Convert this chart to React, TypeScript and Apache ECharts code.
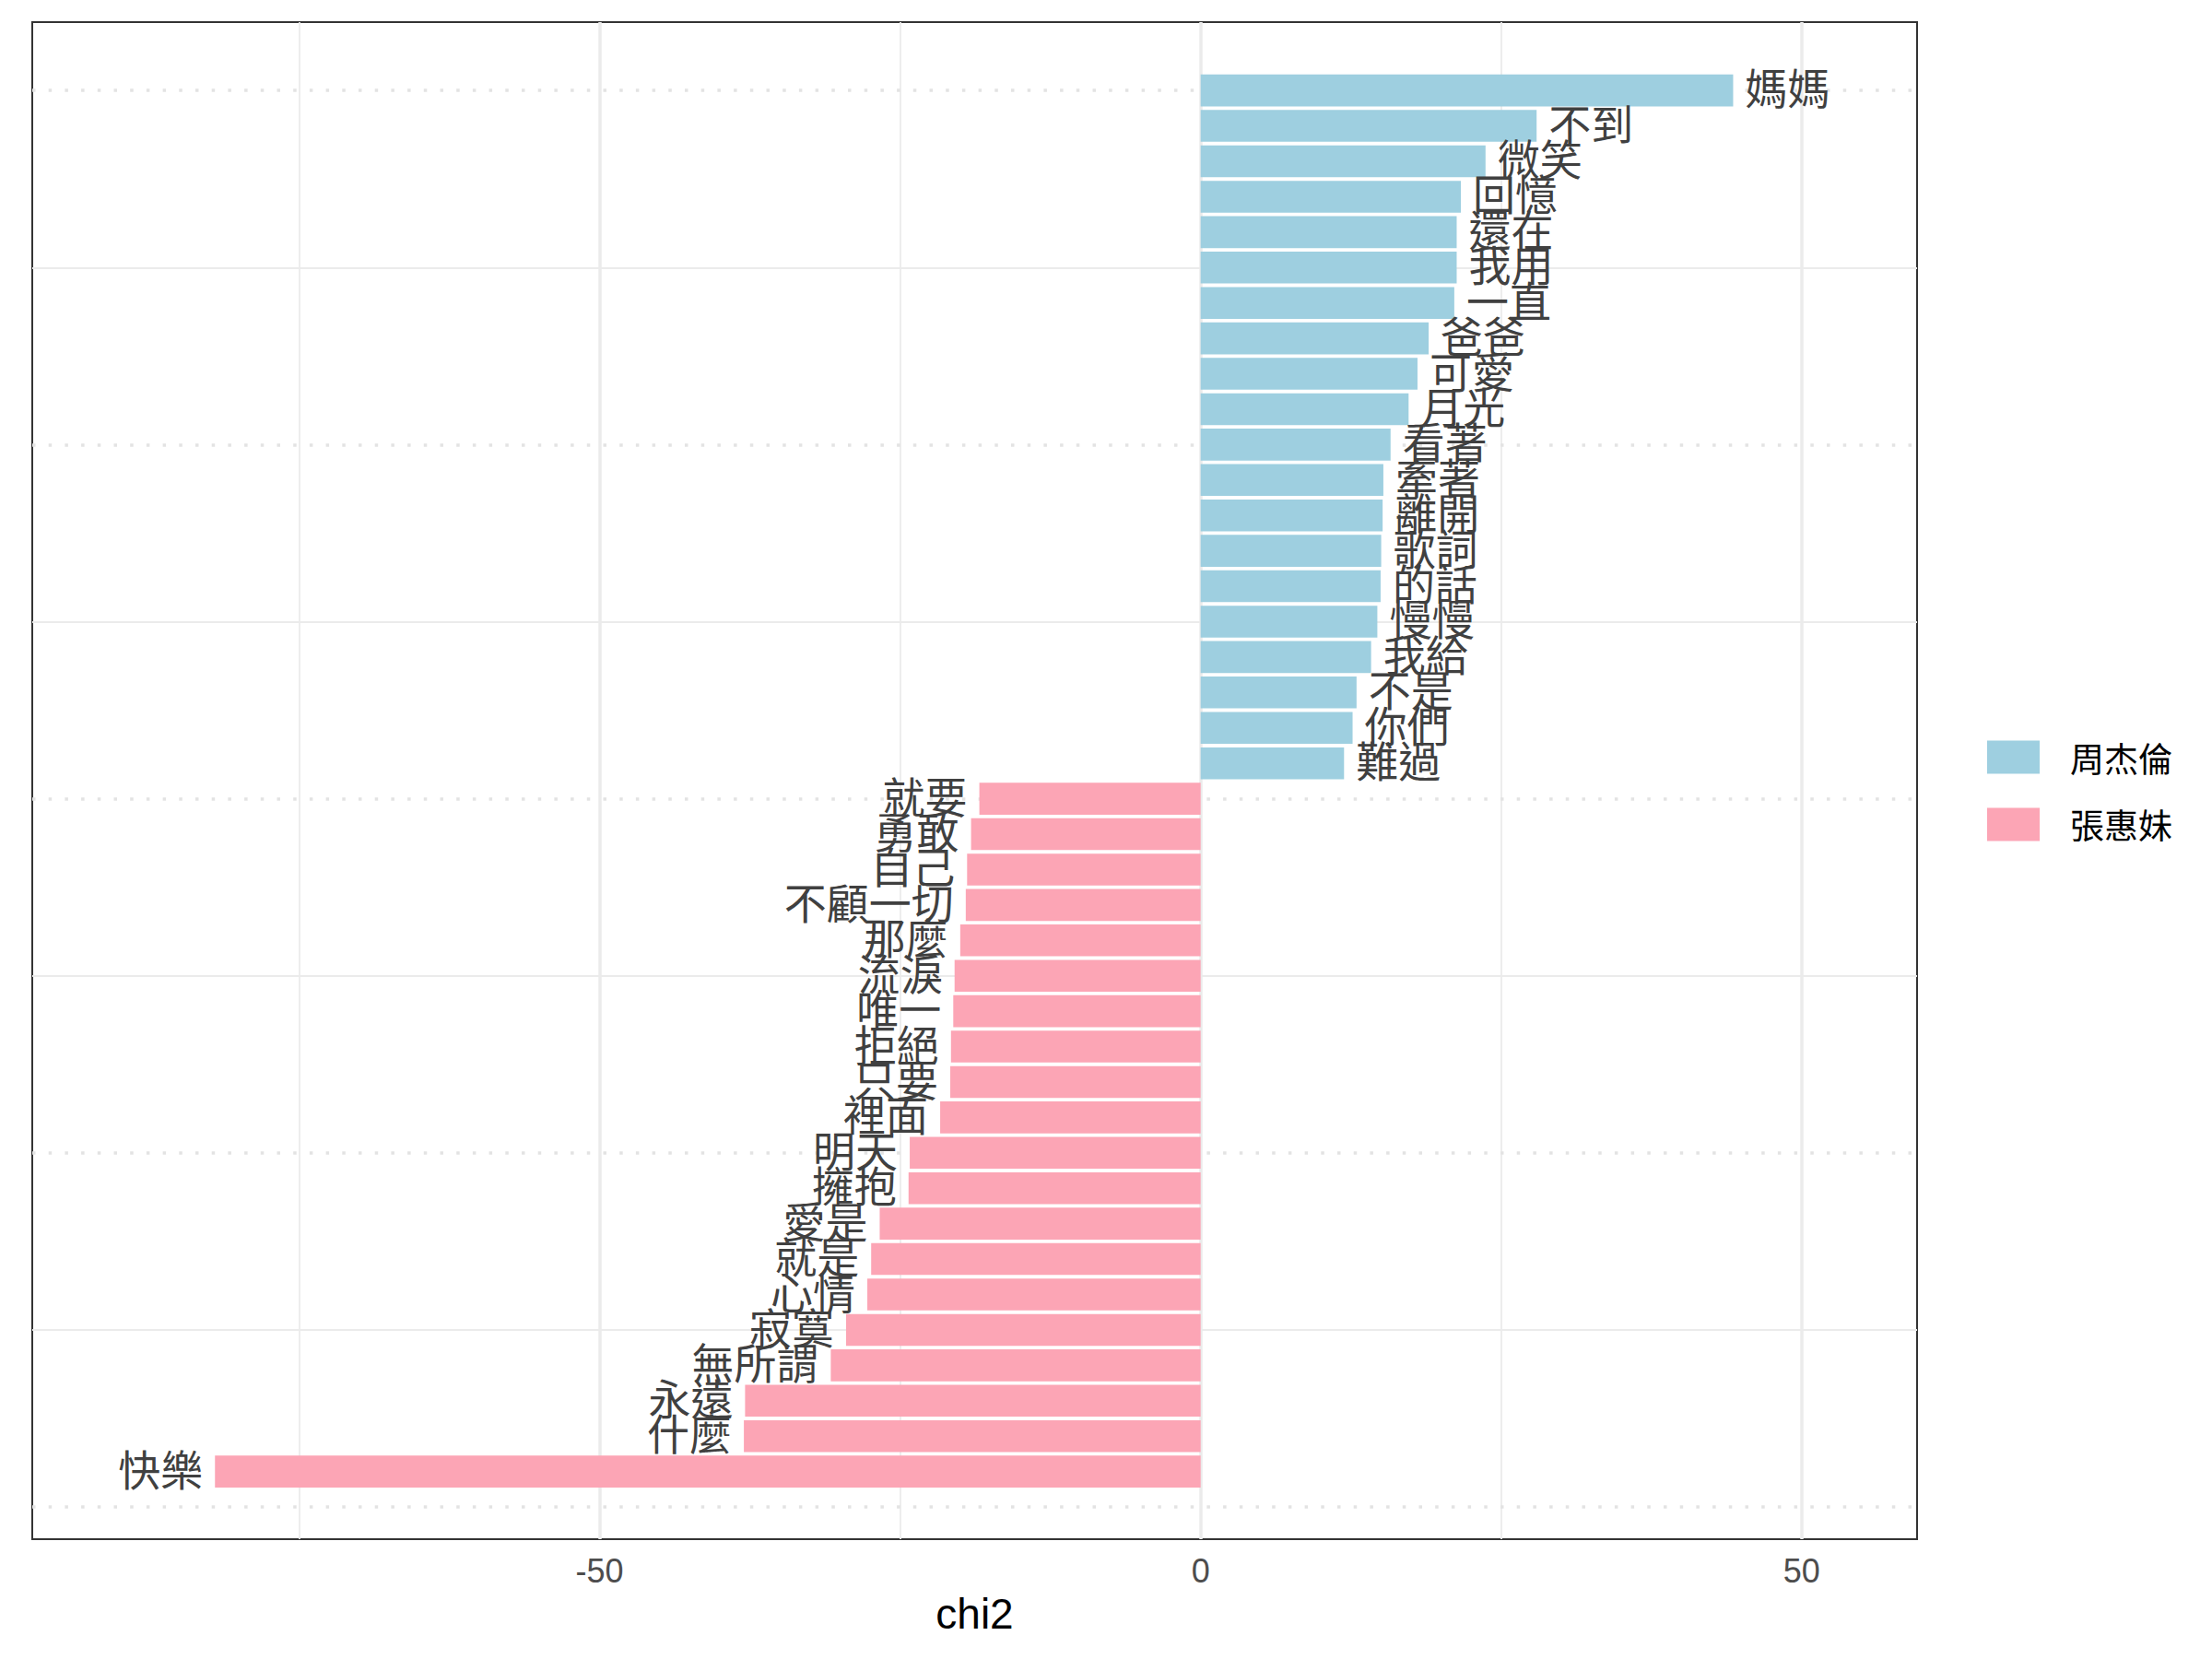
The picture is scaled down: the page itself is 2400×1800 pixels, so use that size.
import React, { useEffect, useRef } from 'react';
import * as echarts from 'echarts';

// Words ordered top to bottom within each singer
const jayWords = ['媽媽', '不到', '微笑', '回憶', '還在', '我用', '一直', '爸爸', '可愛', '月光', '看著', '牽著', '離開', '歌詞', '的話', '慢慢', '我給', '不是', '你們', '難過'];
const jayChi2 = [44.3, 27.95, 23.7, 21.65, 21.3, 21.3, 21.1, 18.97, 18.04, 17.3, 15.8, 15.2, 15.14, 15.02, 14.97, 14.7, 14.18, 12.97, 12.64, 11.93];
const amitWords = ['就要', '勇敢', '自己', '不顧一切', '那麼', '流淚', '唯一', '拒絕', '只要', '裡面', '明天', '擁抱', '愛是', '就是', '心情', '寂寞', '無所謂', '永遠', '什麼', '快樂'];
const amitChi2 = [-18.41, -19.1, -19.43, -19.54, -20.0, -20.47, -20.58, -20.77, -20.83, -21.67, -24.2, -24.3, -26.7, -27.41, -27.73, -29.5, -30.77, -37.9, -38.0, -82.0];

const seriesNames = ['周杰倫', '張惠妹'];
const seriesColors = ['#9ECFE0', '#FCA5B5'];

const xTicks = [-50, 0, 50];
const xMajorGrid = [-50, 0, 50];
const xMinorGrid = [-75, -25, 25];
const yMajorGrid = [0, 10, 20, 30, 40];
const yMinorGrid = [5, 15, 25, 35];
const xRange = [-97.2, 59.6];
const yRange = [-0.91, 41.93];

export default function App() {
  const ref = useRef<HTMLDivElement>(null);

  useEffect(() => {
    if (!ref.current) return;
    const chart = echarts.init(ref.current, null, { renderer: 'svg' });
    const total = jayWords.length + amitWords.length;
    const jayData = jayWords.map((_, i) => [jayChi2[i], total - i]);
    const amitData = amitWords.map((_, i) => [amitChi2[i], amitWords.length - i]);
    const wordsByName: Record<string, string[]> = {
      [seriesNames[0]]: jayWords,
      [seriesNames[1]]: amitWords,
    };

    const renderItem = (params: any, api: any) => {
      const v = api.value(0);
      const r = api.value(1);
      const p0 = api.coord([0, r]);
      const p1 = api.coord([v, r]);
      const h = api.size([0, 0.9])[1];
      const list = wordsByName[params.seriesName] || [];
      const word = list[params.dataIndex] || '';
      const pos = v >= 0;
      return {
        type: 'group',
        children: [
          {
            type: 'rect',
            shape: { x: Math.min(p0[0], p1[0]), y: p0[1] - h / 2, width: Math.abs(p1[0] - p0[0]), height: h },
            style: { fill: api.visual('color') },
          },
          {
            type: 'text',
            x: p1[0] + (pos ? 13 : -13),
            y: p1[1] - 5,
            style: {
              text: word,
              textAlign: pos ? 'left' : 'right',
              textVerticalAlign: 'middle',
              align: pos ? 'left' : 'right',
              verticalAlign: 'middle',
              font: '46px "Noto Sans CJK TC"',
              fill: '#404040',
            },
          },
        ],
      };
    };

    const majorGridStyle = { color: '#EBEBEB', width: 3.5, type: 'solid' };
    const minorGridStyle = { color: '#EBEBEB', width: 1.8, type: 'solid' };
    const dottedStyle = { color: '#E3E3E3', width: 3.5, type: [3.5, 14.2], cap: 'butt' };

    const markData: any[] = [
      ...xMinorGrid.map((v) => ({ xAxis: v, lineStyle: minorGridStyle })),
      ...xMajorGrid.map((v) => ({ xAxis: v, lineStyle: majorGridStyle })),
      ...yMinorGrid.map((v) => ({ yAxis: v, lineStyle: minorGridStyle })),
      ...yMajorGrid.map((v) => ({ yAxis: v, lineStyle: dottedStyle })),
    ];

    chart.setOption({
      animation: false,
      backgroundColor: '#FFFFFF',
      grid: {
        left: 35,
        right: 320,
        top: 24,
        bottom: 130,
        show: true,
        borderColor: '#333333',
        borderWidth: 2,
        backgroundColor: 'transparent',
      },
      legend: {
        data: seriesNames,
        orient: 'vertical',
        left: 2151,
        top: 798,
        itemWidth: 57,
        itemHeight: 36,
        itemGap: 36,
        icon: 'rect',
        selectedMode: false,
        textStyle: {
          fontSize: 37,
          fontFamily: '"Noto Sans CJK TC"',
          color: '#000000',
          padding: [0, 0, 0, 28],
        },
      },
      xAxis: {
        type: 'value',
        min: xRange[0],
        max: xRange[1],
        name: 'chi2',
        nameLocation: 'middle',
        nameGap: 58,
        nameTextStyle: { fontSize: 46, fontFamily: '"Liberation Sans"', color: '#000000' },
        axisLine: { show: false },
        splitLine: { show: false },
        axisTick: { show: true, length: 12, lineStyle: { color: '#333333', width: 2 }, customValues: xTicks },
        axisLabel: { customValues: xTicks, fontSize: 36, color: '#4D4D4D', fontFamily: '"Liberation Sans"', margin: 16 },
      },
      yAxis: {
        type: 'value',
        min: yRange[0],
        max: yRange[1],
        axisLine: { show: false },
        axisTick: { show: false },
        axisLabel: { show: false },
        splitLine: { show: false },
      },
      series: [
        {
          type: 'line',
          data: [],
          silent: true,
          markLine: {
            silent: true,
            symbol: 'none',
            label: { show: false },
            emphasis: { disabled: true },
            data: markData,
          },
        },
        {
          name: seriesNames[0],
          type: 'custom',
          z: 10,
          itemStyle: { color: seriesColors[0] },
          encode: { x: 0, y: 1 },
          renderItem,
          data: jayData,
        },
        {
          name: seriesNames[1],
          type: 'custom',
          z: 10,
          itemStyle: { color: seriesColors[1] },
          encode: { x: 0, y: 1 },
          renderItem,
          data: amitData,
        },
      ],
    });

    return () => chart.dispose();
  }, []);

  return (
    <div
      ref={ref}
      style={{ position: 'fixed', left: 0, top: 0, width: '2400px', height: '1800px', background: '#fff' }}
    />
  );
}
